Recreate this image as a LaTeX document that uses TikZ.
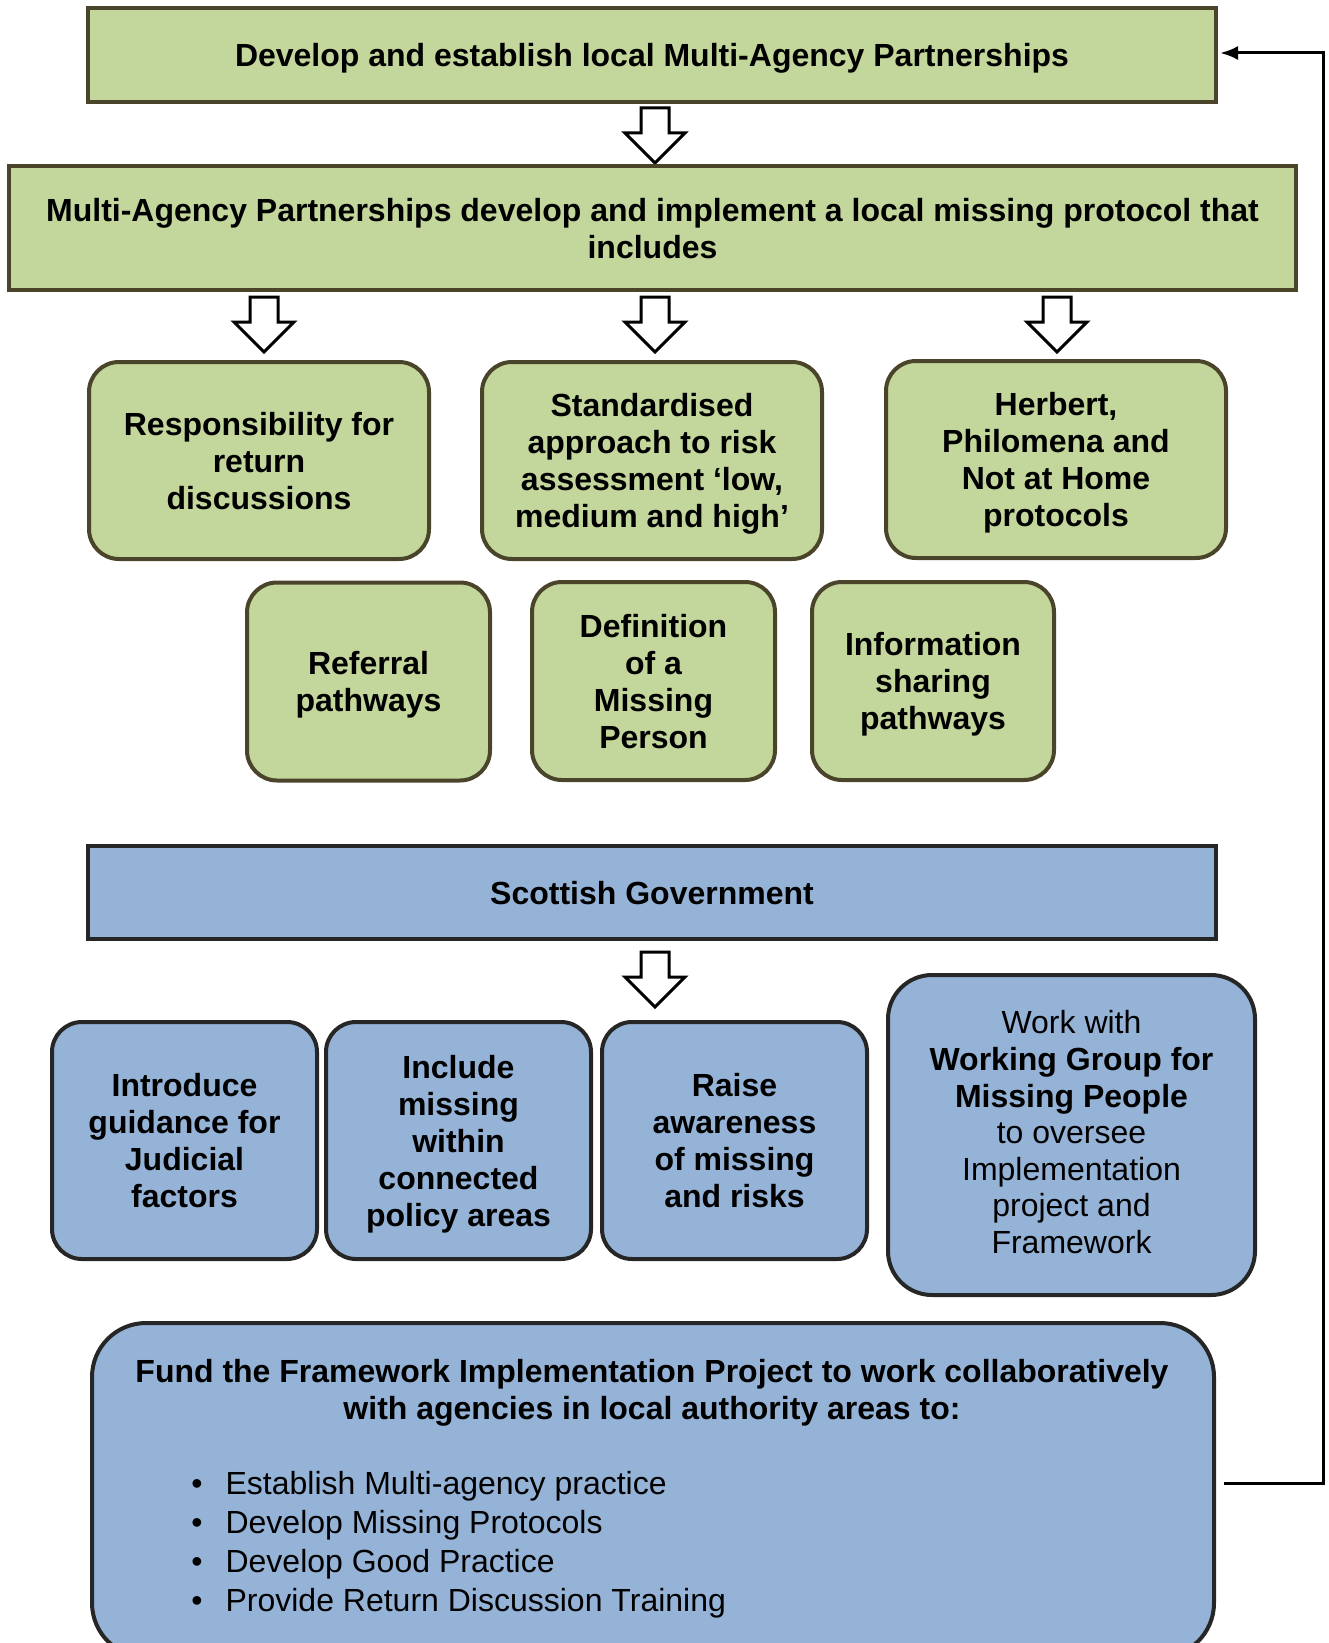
\documentclass[tikz,border=0pt]{standalone}
\usepackage{fontspec}
\setmainfont{Liberation Sans}
\usetikzlibrary{arrows.meta}
\definecolor{gfill}{HTML}{C3D69B}
\definecolor{gdraw}{HTML}{4A452A}
\definecolor{bfill}{HTML}{95B3D7}
\definecolor{bdraw}{HTML}{262626}
\begin{document}
\begin{tikzpicture}[x=0.5pt,y=-0.5pt,
 base/.style={inner sep=0pt, align=center, text depth=-1.5pt, font=\fontsize{16}{18.5}\selectfont\bfseries},
 gbar/.style={base, draw=gdraw, fill=gfill, line width=2pt},
 gbox/.style={base, draw=gdraw, fill=gfill, line width=2pt, rounded corners=15pt},
 bbar/.style={base, draw=bdraw, fill=bfill, line width=2pt},
 bbox/.style={base, draw=bdraw, fill=bfill, line width=2pt, rounded corners=15pt},
 blockarrow/.pic={\draw[line width=1.5pt, fill=white, miter limit=10] (-14,0) -- (14,0) -- (14,25) -- (30,25) -- (0,55) -- (-30,25) -- (-14,25) -- cycle;},
 fb/.style={line width=1.5pt, -{Latex[length=9pt,width=7pt]}}
]
\useasboundingbox (0,0) rectangle (1328,1643);

% green section
\node[gbar, minimum width=564pt, minimum height=47pt, text depth=-4pt] (top) at (652,55)
  {Develop and establish local Multi-Agency Partnerships};
\pic at (655,108) {blockarrow};
\node[gbar, minimum width=643.5pt, minimum height=62pt] (proto) at (652.5,228)
  {Multi-Agency Partnerships develop and implement a local missing protocol that\\includes};
\pic at (264,297) {blockarrow};
\pic at (655,297) {blockarrow};
\pic at (1057,297) {blockarrow};

\node[gbox, minimum width=170pt, minimum height=98.5pt] (resp) at (259,460.5)
  {Responsibility for\\return\\discussions};
\node[gbox, minimum width=170pt, minimum height=98.5pt] (risk) at (652,460.5)
  {Standardised\\approach to risk\\assessment ‘low,\\medium and high’};
\node[gbox, minimum width=170pt, minimum height=98.5pt] (herb) at (1056,459.5)
  {Herbert,\\Philomena and\\Not at Home\\protocols};
\node[gbox, minimum width=121.5pt, minimum height=99pt] (refer) at (368.5,681.5)
  {Referral\\pathways};
\node[gbox, minimum width=121.5pt, minimum height=99pt] (defin) at (653.5,681)
  {Definition\\of a\\Missing\\Person};
\node[gbox, minimum width=121pt, minimum height=99pt] (info) at (933,681)
  {Information\\sharing\\pathways};

% blue section
\node[bbar, minimum width=564pt, minimum height=46.5pt] (sg) at (652,892.5)
  {Scottish Government};
\pic at (655,952) {blockarrow};

\node[bbox, minimum width=132.5pt, minimum height=118.5pt] (judic) at (184.5,1140.5)
  {Introduce\\guidance for\\Judicial\\factors};
\node[bbox, minimum width=132.5pt, minimum height=118.5pt] (incl) at (458.5,1140.5)
  {Include\\missing\\within\\connected\\policy areas};
\node[bbox, minimum width=132.5pt, minimum height=118.5pt] (raise) at (734.5,1140.5)
  {Raise\\awareness\\of missing\\and risks};
\node[bbox, rounded corners=22pt, minimum width=183.5pt, minimum height=160pt,
      text depth=3pt, font=\fontsize{16}{18.3}\selectfont] (work) at (1071.5,1135)
  {Work with\\\textbf{Working Group for}\\\textbf{Missing People}\\to oversee\\Implementation\\project and\\Framework};

\node[bbox, rounded corners=27pt, minimum width=561pt, minimum height=167pt] (fund) at (653,1490) {};
\node[base] (fundtitle) at (652,1389)
  {Fund the Framework Implementation Project to work collaboratively\\with agencies in local authority areas to:};
\node[inner sep=0pt, anchor=west, font=\fontsize{16}{19.5}\selectfont] (fundlist) at (191,1545)
  {\begin{tabular}{@{}l@{\hspace{11.5pt}}l@{}}
   • & Establish Multi-agency practice\\
   • & Develop Missing Protocols\\
   • & Develop Good Practice\\
   • & Provide Return Discussion Training
   \end{tabular}};

% feedback connector
\coordinate (fbstart) at (1224,1483);
\coordinate (fbcorner) at (1323,1483);
\draw[fb] (fbstart) -- (fbcorner) |- ([xshift=1pt,yshift=1pt]top.east);
\end{tikzpicture}
\end{document}
